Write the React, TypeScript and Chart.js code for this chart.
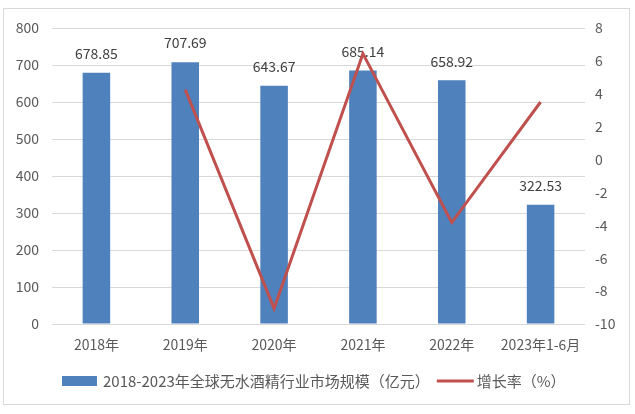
import React, { useEffect, useRef } from "react";
import { Chart, registerables } from "chart.js";

Chart.register(...registerables);

const categories = ["2018年", "2019年", "2020年", "2021年", "2022年", "2023年1-6月"];
const marketSize = [678.85, 707.69, 643.67, 685.14, 658.92, 322.53];
const growthRate = [null, 4.25, -9.05, 6.44, -3.83, 3.5];
const sizeLabel = "2018-2023年全球无水酒精行业市场规模（亿元）";
const rateLabel = "增长率（%）";

const FONT = "'Noto Sans CJK SC', 'Noto Sans', sans-serif";
const BAR = "#4F81BD";
const LINE = "#C0504D";
const GRID = "#D9D9D9";
const TICK = "#595959";

export default function App() {
  const ref = useRef<HTMLCanvasElement | null>(null);
  useEffect(() => {
    if (!ref.current) return;
    const bgPlugin = {
      id: "bg",
      beforeDraw(chart: any) {
        const ctx = chart.ctx;
        ctx.save();
        ctx.fillStyle = "#fff";
        ctx.fillRect(0, 0, chart.width, chart.height);
        ctx.strokeStyle = GRID;
        ctx.lineWidth = 1;
        ctx.strokeRect(3.5, 8.5, 626, 396);
        ctx.restore();
      },
    };
    const labelPlugin = {
      id: "barLabels",
      afterDatasetDraw(chart: any, args: any) {
        if (args.index !== 0) return;
        const ctx = chart.ctx;
        const meta = chart.getDatasetMeta(0);
        ctx.save();
        ctx.font = `14px ${FONT}`;
        ctx.fillStyle = "#404040";
        ctx.textAlign = "center";
        ctx.textBaseline = "middle";
        meta.data.forEach((el: any, i: number) => {
          ctx.fillText(marketSize[i].toFixed(2), el.x, el.y - 19);
        });
        ctx.restore();
      },
    };
    const legendPlugin = {
      id: "customLegend",
      afterDraw(chart: any) {
        const ctx = chart.ctx;
        ctx.save();
        ctx.font = `15px ${FONT}`;
        ctx.textBaseline = "middle";
        ctx.textAlign = "left";
        const w1 = ctx.measureText(sizeLabel).width;
        let x = 62;
        const y = 381;
        ctx.fillStyle = BAR;
        ctx.fillRect(x, y - 5, 35, 10);
        x += 41;
        ctx.fillStyle = TICK;
        ctx.fillText(sizeLabel, x, y);
        x += w1 + 7;
        ctx.strokeStyle = LINE;
        ctx.lineWidth = 3;
        ctx.beginPath();
        ctx.moveTo(x, y);
        ctx.lineTo(x + 37, y);
        ctx.stroke();
        x += 40;
        ctx.fillText(rateLabel, x, y);
        ctx.restore();
      },
    };
    const chart = new Chart(ref.current, {
      type: "bar",
      data: {
        labels: categories,
        datasets: [
          {
            type: "bar",
            label: sizeLabel,
            data: marketSize,
            backgroundColor: BAR,
            borderWidth: 0,
            barPercentage: 0.31,
            categoryPercentage: 1,
            yAxisID: "y",
            order: 2,
          },
          {
            type: "line",
            label: rateLabel,
            data: growthRate as any,
            borderColor: LINE,
            backgroundColor: LINE,
            borderWidth: 3,
            pointRadius: 0,
            tension: 0,
            yAxisID: "y1",
            order: 1,
          } as any,
        ],
      },
      options: {
        responsive: false,
        animation: false,
        layout: { padding: { top: 28, left: 0, right: 0, bottom: 0 } },
        plugins: { legend: { display: false }, tooltip: { enabled: false } },
        scales: {
          x: {
            grid: { display: false, drawTicks: false },
            border: { display: false },
            ticks: { color: TICK, font: { family: FONT, size: 14 }, padding: 12, maxRotation: 0, autoSkip: false },
            afterFit(s: any) { s.height = 90; },
          },
          y: {
            position: "left",
            min: 0,
            max: 800,
            ticks: { stepSize: 100, color: TICK, font: { family: FONT, size: 14 }, padding: 13 },
            grid: { color: GRID, drawTicks: false },
            border: { display: false },
            afterFit(s: any) { s.width = 52; },
          },
          y1: {
            position: "right",
            min: -10,
            max: 8,
            ticks: { stepSize: 2, color: TICK, font: { family: FONT, size: 14 }, padding: 10 },
            grid: { display: false, drawTicks: false },
            border: { display: false },
            afterFit(s: any) { s.width = 50; },
          },
        },
      },
      plugins: [bgPlugin, labelPlugin, legendPlugin],
    });
    return () => chart.destroy();
  }, []);
  return (
    <div style={{ position: "fixed", left: 0, top: 0, width: 635, height: 414, background: "#fff" }}>
      <canvas ref={ref} width={635} height={414} style={{ display: "block" }} />
    </div>
  );
}
